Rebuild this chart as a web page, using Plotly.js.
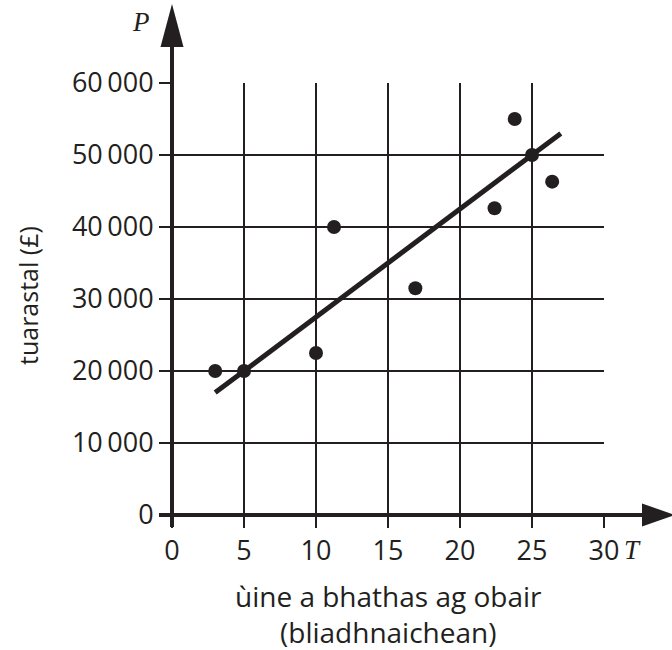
<!DOCTYPE html>
<html><head><meta charset="utf-8">
<script src="https://cdn.plot.ly/plotly-3.0.1.min.js"></script>
<style>body{margin:0;background:#fff}#c{width:672px;height:650px}</style>
</head><body><div id="c"></div>
<script>
const years = [3, 5, 10, 11.25, 16.9, 22.4, 23.8, 25, 26.4];
const salary = [20000, 20000, 22500, 40000, 31500, 42600, 55000, 50000, 46300];
const fitYears = [3, 27];
const fitSalary = [17000, 53000];
const xTickVals = [0, 5, 10, 15, 20, 25, 30];
const xTickText = ['0', '5', '10', '15', '20', '25', '30'];
const yTickVals = [0, 10000, 20000, 30000, 40000, 50000, 60000];
const yTickText = ['0', '10\u2009000', '20\u2009000', '30\u2009000', '40\u2009000', '50\u2009000', '60\u2009000'];

const ink = '#231f20';
const L = 172, T = 83, W = 432, H = 432;
const px = x => (x - L) / W;
const py = y => (T + H - y) / H;

const traces = [
  {x: fitYears, y: fitSalary, mode: 'lines', line: {color: ink, width: 5}, hoverinfo: 'skip', cliponaxis: false},
  {x: years, y: salary, mode: 'markers', marker: {color: ink, size: 14}, cliponaxis: false}
];

const shapes = [
  {type: 'line', xref: 'paper', yref: 'paper', x0: px(172), x1: px(172), y0: py(527), y1: py(40), line: {color: ink, width: 4}},
  {type: 'line', xref: 'paper', yref: 'paper', x0: px(159), x1: px(650), y0: py(515), y1: py(515), line: {color: ink, width: 4}},
  {type: 'path', xref: 'paper', yref: 'paper', fillcolor: ink, line: {width: 0},
   path: `M ${px(172)} ${py(4)} L ${px(160.5)} ${py(47)} L ${px(183.5)} ${py(47)} Z`},
  {type: 'path', xref: 'paper', yref: 'paper', fillcolor: ink, line: {width: 0},
   path: `M ${px(675)} ${py(515)} L ${px(642)} ${py(503.5)} L ${px(642)} ${py(526.5)} Z`}
];

const tickLab = {family: 'Open Sans, sans-serif', size: 27, color: ink};
const titleLab = {family: 'Open Sans, sans-serif', size: 28, color: ink};
const yTitleLab = {family: 'Open Sans, sans-serif', size: 25, color: ink};
const annotations = [
  {xref: 'paper', yref: 'paper', x: px(141), y: py(22), xanchor: 'center', yanchor: 'middle', text: 'P', showarrow: false,
   font: {family: 'Liberation Serif, serif', size: 27, color: ink, style: 'italic'}},
  {xref: 'paper', yref: 'paper', x: px(632), y: py(550), xanchor: 'center', yanchor: 'middle', text: 'T', showarrow: false,
   font: {family: 'Liberation Serif, serif', size: 27, color: ink, style: 'italic'}},
  {xref: 'paper', yref: 'paper', x: px(28), y: py(296), xanchor: 'center', yanchor: 'middle', text: 'tuarastal (£)', textangle: -90, showarrow: false, font: yTitleLab},
  {xref: 'paper', yref: 'paper', x: px(388), y: py(596), xanchor: 'center', yanchor: 'middle', text: 'ùine a bhathas ag obair', showarrow: false, font: titleLab},
  {xref: 'paper', yref: 'paper', x: px(388), y: py(632), xanchor: 'center', yanchor: 'middle', text: '(bliadhnaichean)', showarrow: false, font: titleLab}
];

const layout = {
  width: 672, height: 650,
  margin: {l: L, r: 672 - L - W, t: T, b: 650 - T - H},
  paper_bgcolor: '#fff', plot_bgcolor: '#fff',
  showlegend: false,
  xaxis: {range: [0, 30], tickvals: xTickVals, ticktext: xTickText, showgrid: true, gridcolor: ink, gridwidth: 2,
    ticks: 'outside', ticklen: 12, tickwidth: 2, tickcolor: ink, zeroline: false, showline: false,
    tickfont: tickLab, fixedrange: true},
  yaxis: {range: [0, 60000], tickvals: yTickVals, ticktext: yTickText, showgrid: true, gridcolor: ink, gridwidth: 2,
    ticks: 'outside', ticklen: 12, tickwidth: 2, tickcolor: ink, zeroline: false, showline: false,
    tickfont: tickLab, fixedrange: true},
  shapes: shapes,
  annotations: annotations
};

Plotly.newPlot('c', traces, layout, {displayModeBar: false, staticPlot: true});
</script></body></html>
